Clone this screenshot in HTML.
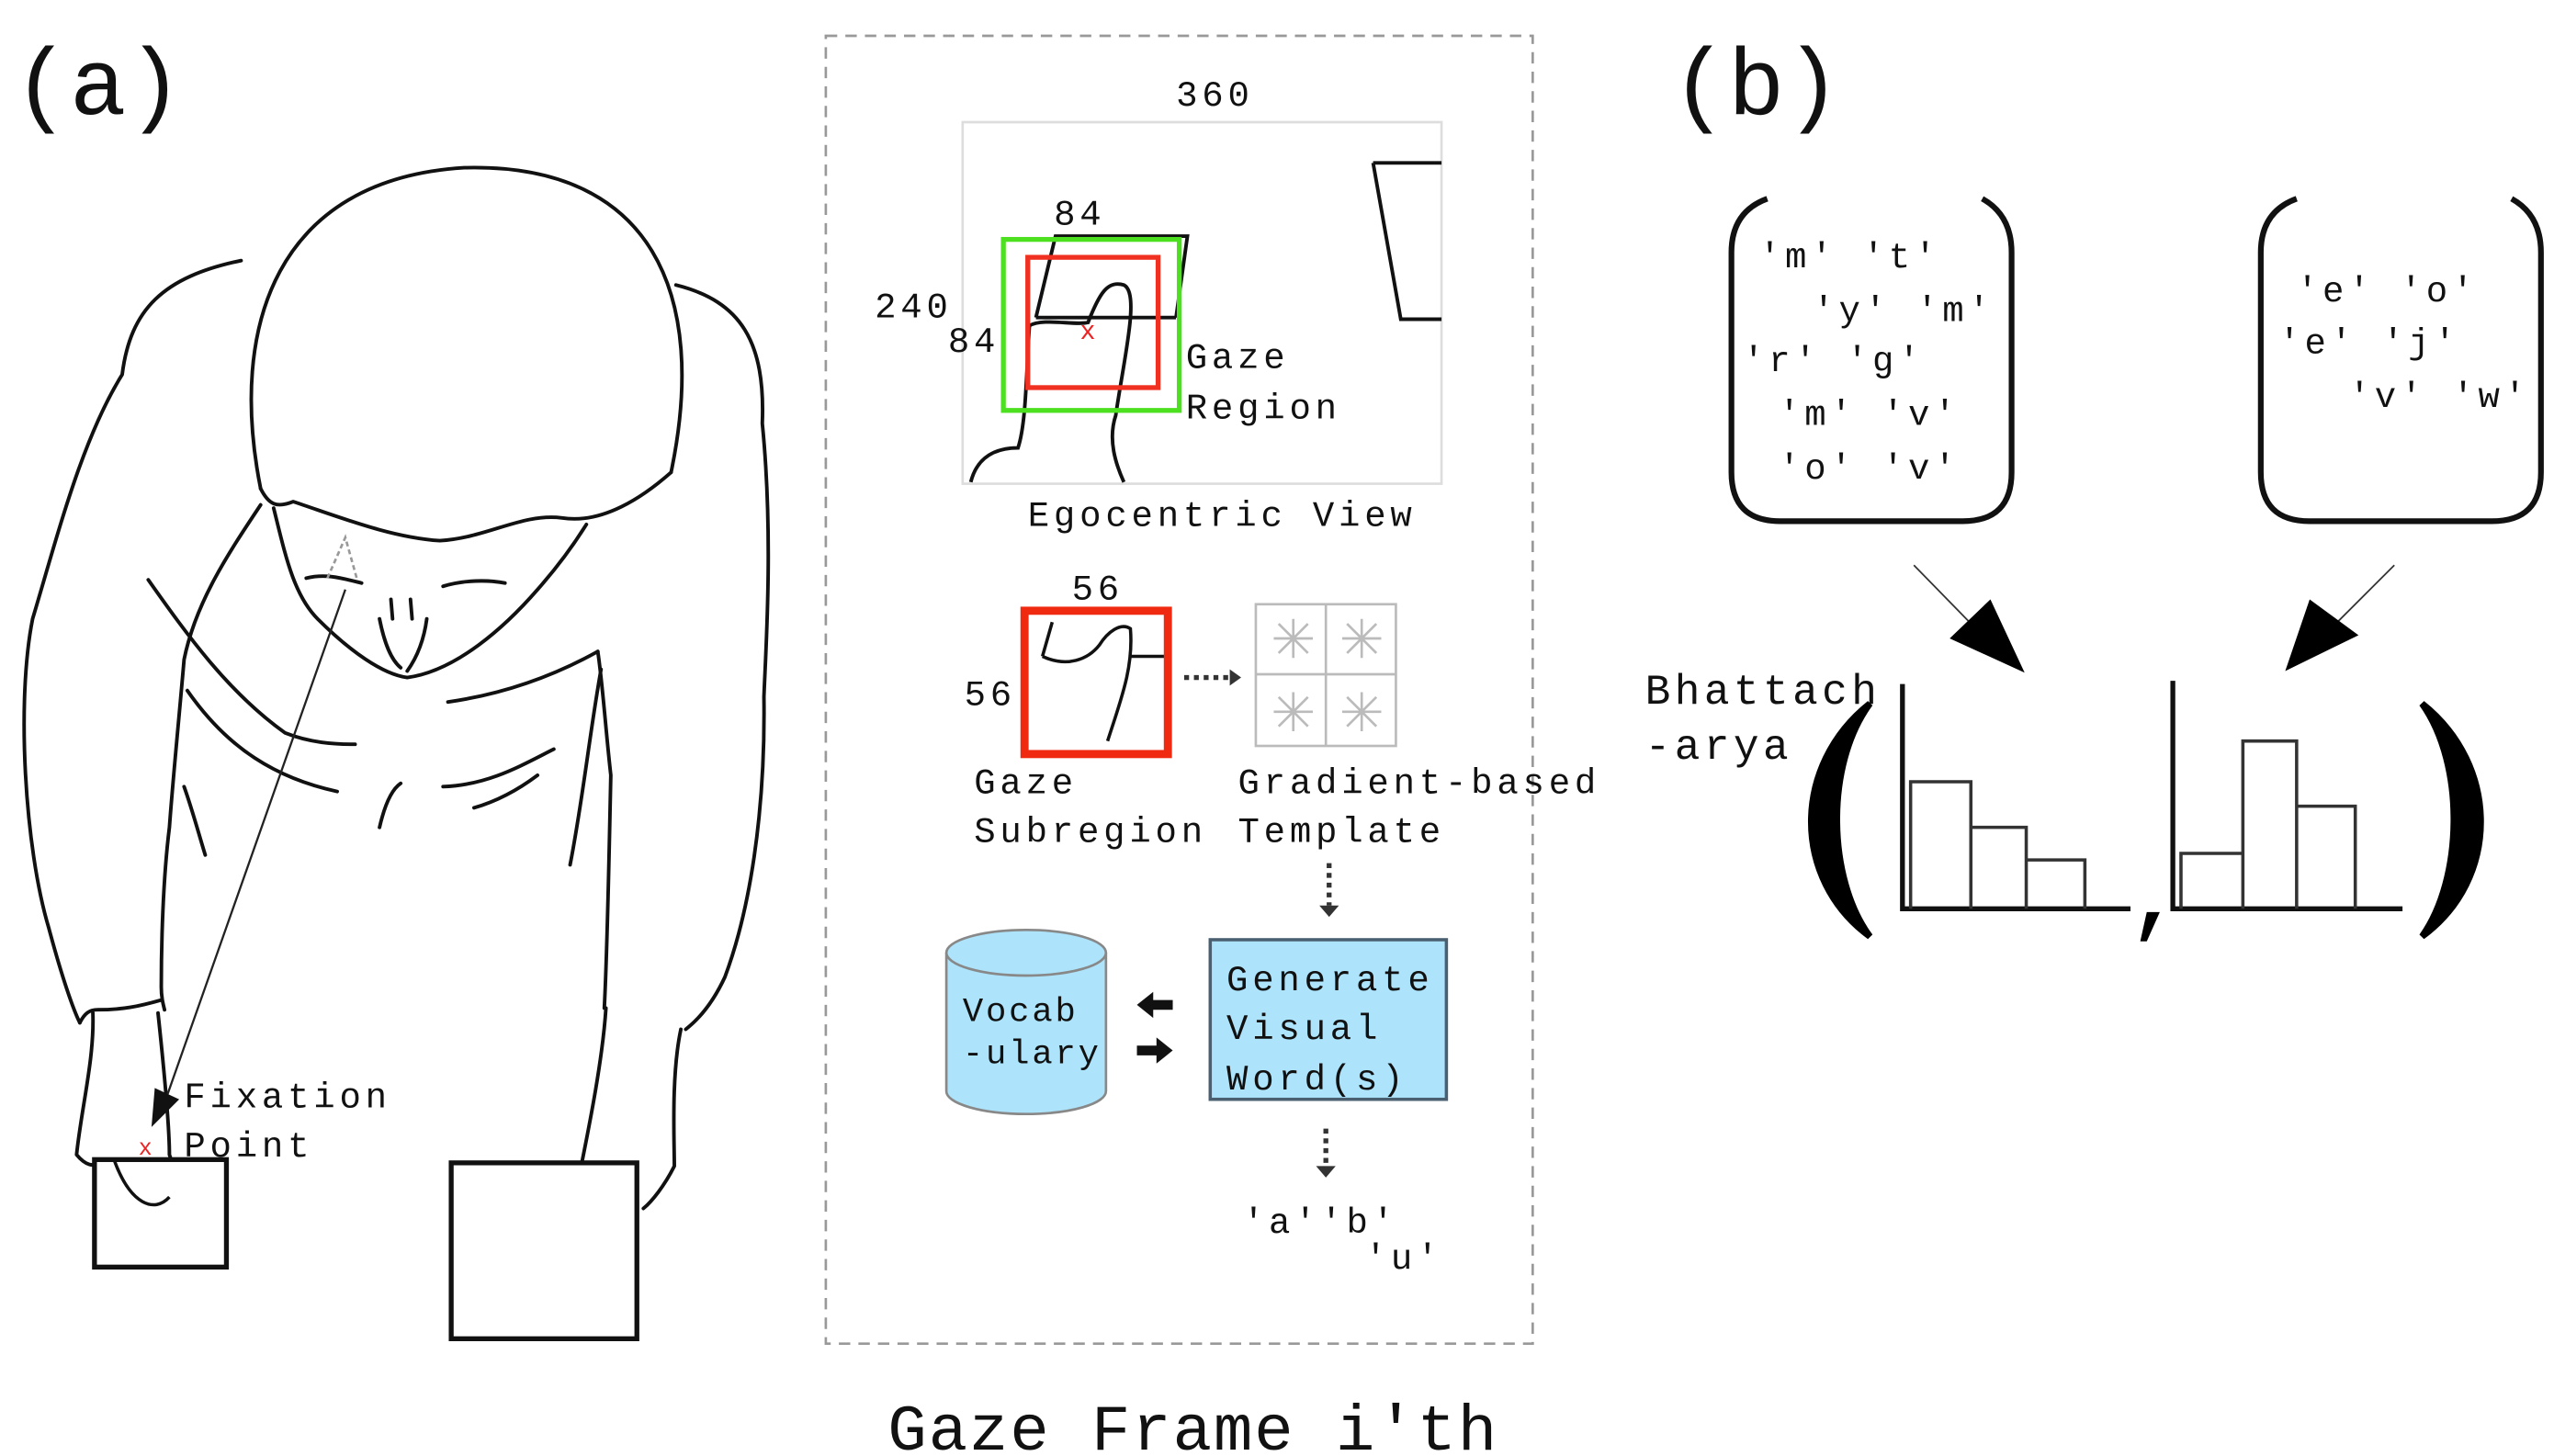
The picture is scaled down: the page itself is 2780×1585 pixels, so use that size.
<!DOCTYPE html>
<html><head><meta charset="utf-8"><style>
html,body{margin:0;padding:0;background:#fff;}
svg{display:block;}
text{font-family:"Liberation Mono",monospace;fill:#111;letter-spacing:2.7px;}
</style></head><body>
<svg width="2780" height="1585" viewBox="0 0 1568 894" xmlns="http://www.w3.org/2000/svg">
<rect width="1568" height="894" fill="#fff"/>
<text x="8" y="70" font-size="58" style="letter-spacing:0">(a)</text>
<text x="1026" y="70" font-size="58" style="letter-spacing:0">(b)</text>

<!-- person -->
<g fill="none" stroke="#111" stroke-width="2.2" stroke-linejoin="round" stroke-linecap="round">
<path d="M160,300 C140,200 170,110 285,103 C400,100 435,180 412,290"/>
<path d="M160,300 C165,310 170,312 180,308 C210,318 240,330 270,332 C300,330 320,315 345,318 C370,322 395,305 412,290"/>
<path d="M168,312 C175,340 180,365 195,380 C215,400 235,414 250,416 C280,412 310,385 330,362 C345,345 355,330 360,322"/>
<path d="M148,160 C100,170 80,190 75,230 C50,270 35,330 20,380 C10,430 15,520 30,570 C38,600 45,620 49,628"/>
<path d="M57,622 C58,650 50,680 47,709 C52,715 58,718 62,712"/>
<path d="M97,622 C100,650 104,690 104,709 C108,720 110,730 104,735 C98,738 96,730 97,722"/>
<path d="M49,628 C52,622 55,620 60,620 C75,620 85,618 99,614"/>
<path d="M160,310 C140,340 120,370 113,405 C110,440 106,480 104,508 C100,540 99,580 99,606 C99,612 100,616 101,620"/>
<path d="M415,175 C455,185 470,210 468,260 C475,330 470,400 469,428 C470,500 460,560 445,600 C438,615 430,625 421,632"/>
<path d="M418,632 C412,660 414,700 414,716 C408,728 400,738 395,742"/>
<path d="M372,619 C370,650 362,690 357,715 C352,728 355,736 362,737"/>
<path d="M367,400 C370,420 372,450 375,476 C374,520 373,580 371,619"/>
<path d="M91,356 C115,390 140,425 175,450 C190,456 205,457 218,457"/>
<path d="M115,424 C140,460 170,478 207,486"/>
<path d="M275,431 C310,426 340,415 367,400"/>
<path d="M272,483 C300,482 320,470 340,460"/>
<path d="M291,496 C305,492 318,485 330,476"/>
<path d="M233,508 C236,495 240,485 246,481"/>
<path d="M113,483 C118,497 122,512 126,525"/>
<path d="M369,411 C362,450 358,490 350,531"/>
<path d="M188,355 C200,352 210,355 222,358"/>
<path d="M272,360 C285,356 300,356 310,358"/>
<path d="M233,380 C236,395 240,405 246,410 M262,380 C260,395 255,405 250,412"/>
<path d="M240,368 L241,380 M252,368 L253,380"/>
</g>
<path d="M201,355 L212,330 L219,355" fill="none" stroke="#999" stroke-width="1.5" stroke-dasharray="3,2"/>
<rect x="58" y="712" width="81" height="66" fill="#fff" stroke="#111" stroke-width="3"/>
<rect x="277" y="714" width="114" height="108" fill="#fff" stroke="#111" stroke-width="3"/>
<path d="M70,712 C80,740 95,745 104,735" fill="none" stroke="#111" stroke-width="2"/>
<line x1="212" y1="362" x2="100" y2="680" stroke="#222" stroke-width="1.3"/>
<path d="M93,692 L95,668 L110,675 z" fill="#111"/>
<text x="85" y="709" font-size="14" style="fill:#e22;letter-spacing:0">x</text>
<text x="113" y="680" font-size="22">Fixation</text>
<text x="113" y="710" font-size="22">Point</text>

<!-- middle box -->
<rect x="507" y="22" width="434" height="803" fill="none" stroke="#999" stroke-width="1.5" stroke-dasharray="7,5"/>
<text x="722" y="65" font-size="22">360</text>
<rect x="591" y="75" width="294" height="222" fill="#fff" stroke="#ddd" stroke-width="1.5"/>
<g fill="none" stroke="#111" stroke-width="2.2">
<path d="M843,100 L885,100 M843,100 L860,196 L885,196"/>
<path d="M636,195 L648,145 L729,145 L722,195 M636,195 L722,195"/>
<path d="M596,296 C600,280 612,275 625,275 C630,260 630,230 632,200 C640,195 660,200 668,198 C675,180 680,172 690,175 C700,180 690,220 685,255 C680,270 685,285 690,296"/>
</g>
<rect x="616" y="147" width="108" height="105" fill="none" stroke="#4de020" stroke-width="3"/>
<rect x="631" y="158" width="80" height="80" fill="none" stroke="#f03020" stroke-width="3"/>
<text x="663" y="208" font-size="16" style="fill:#e22;letter-spacing:0">x</text>
<text x="647" y="138" font-size="22">84</text>
<text x="537" y="195" font-size="22">240</text>
<text x="582" y="216" font-size="22">84</text>
<text x="728" y="226" font-size="22">Gaze</text>
<text x="728" y="257" font-size="22">Region</text>
<text x="631" y="323" font-size="22">Egocentric View</text>

<text x="658" y="368" font-size="22">56</text>
<text x="592" y="433" font-size="22">56</text>
<path d="M640,403 L646,382 M640,403 C655,410 668,405 675,396 C680,388 688,382 694,386 C696,410 688,430 680,455 M694,403 L718,403" fill="none" stroke="#111" stroke-width="2"/>
<rect x="629" y="375" width="88" height="88" fill="none" stroke="#f02a10" stroke-width="5"/>
<line x1="727" y1="416" x2="756" y2="416" stroke="#333" stroke-width="3" stroke-dasharray="3,3"/>
<path d="M755,411 L762,416 L755,421 z" fill="#333"/>
<g stroke="#bbb" stroke-width="1.5" fill="none">
<rect x="771" y="371" width="86" height="87"/>
<line x1="814" y1="371" x2="814" y2="458"/><line x1="771" y1="414" x2="857" y2="414"/>
<path d="M782,392 L806,392 M794,380 L794,404 M785,383 L803,401 M803,383 L785,401"/>
<path d="M824,392 L848,392 M836,380 L836,404 M827,383 L845,401 M845,383 L827,401"/>
<path d="M782,437 L806,437 M794,425 L794,449 M785,428 L803,446 M803,428 L785,446"/>
<path d="M824,437 L848,437 M836,425 L836,449 M827,428 L845,446 M845,428 L827,446"/>
</g>
<text x="598" y="487" font-size="22">Gaze</text>
<text x="598" y="517" font-size="22">Subregion</text>
<text x="760" y="487" font-size="22">Gradient-based</text>
<text x="760" y="517" font-size="22">Template</text>
<line x1="816" y1="530" x2="816" y2="556" stroke="#333" stroke-width="3" stroke-dasharray="3,3"/>
<path d="M810,556 L816,563 L822,556 z" fill="#333"/>
<path d="M581,585 L581,670 A49,14 0 0 0 679,670 L679,585" fill="#ade4fb" stroke="#888" stroke-width="1.5"/>
<ellipse cx="630" cy="585" rx="49" ry="14" fill="#ade4fb" stroke="#888" stroke-width="1.5"/>
<text x="591" y="627" font-size="21" style="letter-spacing:1.6px">Vocab</text>
<text x="591" y="653" font-size="21" style="letter-spacing:1.6px">-ulary</text>
<path d="M720,614 L708,614 L708,609 L698,617 L708,625 L708,620 L720,620 z" fill="#111"/>
<path d="M698,642 L710,642 L710,637 L720,645 L710,653 L710,648 L698,648 z" fill="#111"/>
<rect x="743" y="577" width="145" height="98" fill="#ade4fb" stroke="#4a6070" stroke-width="2"/>
<text x="753" y="608" font-size="22">Generate</text>
<text x="753" y="638" font-size="22">Visual</text>
<text x="753" y="669" font-size="22">Word(s)</text>
<line x1="814" y1="693" x2="814" y2="716" stroke="#333" stroke-width="3" stroke-dasharray="3,3"/>
<path d="M808,716 L814,723 L820,716 z" fill="#333"/>
<text x="763" y="757" font-size="22">'a''b'</text>
<text x="838" y="779" font-size="22">'u'</text>
<text x="545" y="890" font-size="40" style="letter-spacing:1px">Gaze Frame i'th</text>

<!-- (b) -->
<g fill="none" stroke="#111" stroke-width="3.5">
<path d="M1085,122 Q1063,130 1063,155 L1063,290 Q1063,320 1093,320 L1205,320 Q1235,320 1235,290 L1235,155 Q1235,132 1217,122"/>
<path d="M1410,122 Q1388,130 1388,155 L1388,290 Q1388,320 1418,320 L1530,320 Q1560,320 1560,290 L1560,155 Q1560,132 1542,122"/>
</g>
<g font-size="22">
<text x="1080" y="164">'m' 't'</text>
<text x="1113" y="197">'y' 'm'</text>
<text x="1070" y="228">'r' 'g'</text>
<text x="1092" y="261">'m' 'v'</text>
<text x="1092" y="294">'o' 'v'</text>
<text x="1410" y="185">'e' 'o'</text>
<text x="1399" y="217">'e' 'j'</text>
<text x="1442" y="250">'v' 'w'</text>
</g>
<line x1="1175" y1="347" x2="1215" y2="388" stroke="#333" stroke-width="1"/>
<path d="M1243,413 L1197,392 L1222,368 z" fill="#000"/>
<line x1="1470" y1="347" x2="1432" y2="385" stroke="#333" stroke-width="1"/>
<path d="M1403,412 L1418,368 L1448,390 z" fill="#000"/>
<text x="1010" y="432" font-size="26" style="letter-spacing:2.5px">Bhattach</text>
<text x="1010" y="466" font-size="26" style="letter-spacing:2.5px">-arya</text>
<path d="M1148,432 C1100,470 1100,540 1148,575 C1122,540 1120,470 1148,432 z" fill="#000" stroke="#000" stroke-width="4"/>
<path d="M1487,432 C1535,470 1535,540 1487,575 C1512,540 1514,470 1487,432 z" fill="#000" stroke="#000" stroke-width="4"/>
<g fill="none" stroke="#111" stroke-width="3">
<path d="M1168,420 L1168,558 L1308,558"/>
<path d="M1334,418 L1334,558 L1475,558"/>
</g>
<g fill="none" stroke="#333" stroke-width="2">
<path d="M1173,558 L1173,480 L1210,480 L1210,558 M1210,508 L1244,508 L1244,558 M1244,528 L1280,528 L1280,558"/>
<path d="M1339,558 L1339,524 L1377,524 L1377,558 M1377,558 L1377,455 L1410,455 L1410,558 M1410,495 L1446,495 L1446,558"/>
</g>
<path d="M1318,560 L1326,560 L1318,578 L1314,578 z" fill="#000"/>
</svg>
</body></html>
